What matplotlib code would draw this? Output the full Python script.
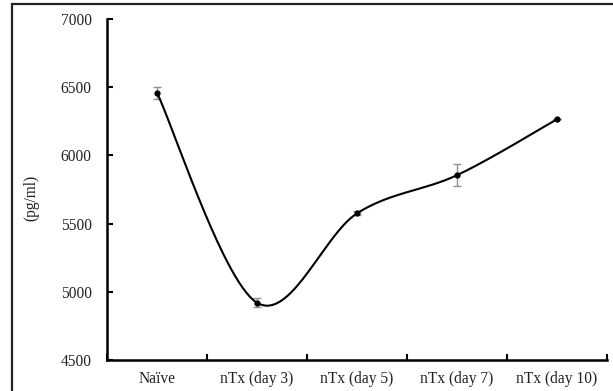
import numpy as np
import matplotlib
matplotlib.use("Agg")
import matplotlib.pyplot as plt
from matplotlib.patches import Rectangle

categories = ["Naïve", "nTx (day 3)", "nTx (day 5)", "nTx (day 7)", "nTx (day 10)"]
values = [6460, 4920, 5575, 5855, 6265]
errors = [45, 35, 15, 80, 0]
yticks = [4500, 5000, 5500, 6000, 6500, 7000]

plt.rcParams['font.family'] = ['Liberation Serif', 'DejaVu Serif']

fig = plt.figure(figsize=(6.13, 3.91), dpi=100)
ax = fig.add_axes([107/613, 1-360/391, 500/613, 341/391])

x = np.arange(len(categories), dtype=float)
y = np.array(values, dtype=float)

# Excel-like smoothed line (Catmull-Rom via cubic Bezier), in a pixel-like space
sx, sy = 100.0, 68.2/500.0
P = np.column_stack([x*sx, y*sy])
n = len(P)
curve = []
t = np.linspace(0, 1, 60)
for i in range(n-1):
    p0 = P[i]; p3 = P[i+1]
    pm = P[i-1] if i > 0 else P[i]
    pp = P[i+2] if i+2 < n else P[i+1]
    c1 = p0 + (p3 - pm)/6.0
    c2 = p3 - (pp - p0)/6.0
    b = ((1-t)**3)[:, None]*p0 + (3*(1-t)**2*t)[:, None]*c1 + (3*(1-t)*t**2)[:, None]*c2 + (t**3)[:, None]*p3
    curve.append(b)
curve = np.vstack(curve)
ax.plot(curve[:, 0]/sx, curve[:, 1]/sy, color='black', lw=1.5, zorder=3)
ax.errorbar(x, y, yerr=errors, fmt='none', ecolor='#909090', elinewidth=1.0, capsize=3, capthick=1.0, zorder=2)
ax.plot(x, y, 'o', color='black', ms=3.5, zorder=4)

ax.set_xlim(-0.5, len(categories)-0.5)
ax.set_ylim(4500, 7000)
ax.set_yticks(yticks)
ax.set_xticks(x)
ax.set_xticklabels(categories)
ax.set_xticks(np.arange(len(categories)+1)-0.5, minor=True)
ax.tick_params(axis='x', which='major', length=0, pad=8, labelsize=11.2, labelcolor='#222222')
ax.tick_params(axis='x', which='minor', direction='in', length=4, width=1.5)
ax.tick_params(axis='y', direction='in', length=4, width=1.5, pad=11, labelsize=11.2, labelcolor='#222222')
for s in ['top', 'right']:
    ax.spines[s].set_visible(False)
for s in ['left', 'bottom']:
    ax.spines[s].set_linewidth(1.8)
ax.set_ylabel("(pg/ml)", fontsize=11.2, color='#222222')
ax.yaxis.set_label_coords(-68/500, 0.475)

fig.patches.append(Rectangle((12/613, -0.1), 1.2, 1 - 4/391 + 0.1, transform=fig.transFigure,
                             fill=False, edgecolor='#222222', lw=1.6))
fig.savefig("out.png", dpi=100)
